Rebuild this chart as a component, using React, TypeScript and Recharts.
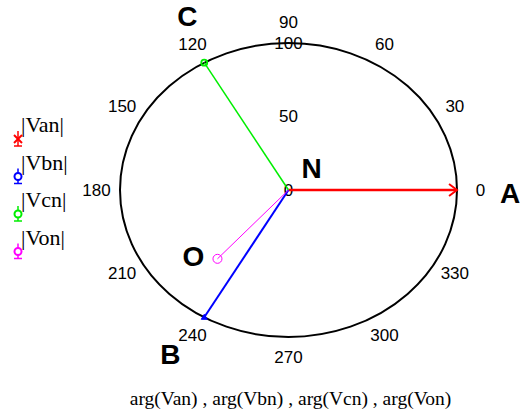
import React from 'react';
import { ScatterChart, Scatter, XAxis, YAxis, ReferenceArea, ReferenceDot, Legend } from 'recharts';

// ---- data ----
const seriesNames = ['Van', 'Vbn', 'Vcn', 'Von'];
const magnitudes = [100, 100, 100, 63];
const anglesDeg = [0, 240, 120, 228];
const tipLetters = ['A', 'B', 'C', 'O'];
const centerLetter = 'N';
const angleTicks = [0, 30, 60, 90, 120, 150, 180, 210, 240, 270, 300, 330];
const radialTicks = [0, 50, 100];
const maxRadius = 100;
const axisTitle = 'arg(Van) , arg(Vbn) , arg(Vcn) , arg(Von)';

// ---- styles ----
const colors = ['#ff0000', '#0000ff', '#00ee00', '#ff00ff'];
const lineWidths = [2.5, 2, 1.5, 1];
const tipMarkers = ['arrow', 'triangle', 'smallCircle', 'circle'];
const legendMarkers = ['x', 'o', 'o', 'o'];
const letterOffsets = [
  { dx: 53, dy: 3 },
  { dx: -34, dy: 37 },
  { dx: -17, dy: -46 },
  { dx: -24, dy: -2 },
];
const centerLetterOffset = { dx: 23, dy: -22 };
const tickLabelRadius = 114;
const sansFont = '"Liberation Sans", Arial, sans-serif';
const serifFont = '"Liberation Serif", "Times New Roman", serif';

const toXY = (r: number, deg: number) => ({
  x: r * Math.cos((deg * Math.PI) / 180),
  y: r * Math.sin((deg * Math.PI) / 180),
});

const seriesData = seriesNames.map((name, i) => {
  const tip = toXY(magnitudes[i], anglesDeg[i]);
  return [
    { x: 0, y: 0, tip: false },
    { x: tip.x, y: tip.y, tip: true },
  ];
});

const EllipseShape = (props: any) => {
  const { x, y, width, height } = props;
  return (
    <ellipse
      cx={x + width / 2}
      cy={y + height / 2}
      rx={width / 2}
      ry={height / 2}
      fill="none"
      stroke="#000"
      strokeWidth={2}
    />
  );
};

const makeTipShape = (i: number) => (props: any) => {
  const { cx, cy, payload } = props;
  if (!payload || !payload.tip) return <g />;
  const color = colors[i];
  const kind = tipMarkers[i];
  const off = letterOffsets[i];
  let marker: React.ReactNode = null;
  if (kind === 'arrow') {
    const a = (anglesDeg[i] * Math.PI) / 180;
    const len = 10;
    const spread = 0.65;
    const bx1 = cx - len * Math.cos(a - spread);
    const by1 = cy + len * Math.sin(a - spread);
    const bx2 = cx - len * Math.cos(a + spread);
    const by2 = cy + len * Math.sin(a + spread);
    marker = (
      <polyline
        points={`${bx1},${by1} ${cx},${cy} ${bx2},${by2}`}
        fill="none"
        stroke={color}
        strokeWidth={2}
      />
    );
  } else if (kind === 'triangle') {
    marker = (
      <polygon
        points={`${cx},${cy - 3} ${cx - 3},${cy + 2} ${cx + 3},${cy + 2}`}
        fill={color}
        stroke={color}
        strokeWidth={1}
      />
    );
  } else if (kind === 'smallCircle') {
    marker = <circle cx={cx} cy={cy} r={3} fill="none" stroke={color} strokeWidth={1.8} />;
  } else {
    marker = <circle cx={cx} cy={cy} r={4.5} fill="none" stroke={color} strokeWidth={1} />;
  }
  return (
    <g>
      {marker}
      <text
        x={cx + off.dx}
        y={cy + off.dy}
        textAnchor="middle"
        dominantBaseline="central"
        fontFamily={sansFont}
        fontWeight="bold"
        fontSize={28}
        fill="#000"
      >
        {tipLetters[i]}
      </text>
    </g>
  );
};

const textShape = (label: string, size = 17, family = sansFont, extra: any = {}) => (props: any) => (
  <text
    x={props.cx + (extra.dx || 0)}
    y={props.cy + (extra.dy || 0)}
    textAnchor="middle"
    dominantBaseline="central"
    fontFamily={family}
    fontSize={size}
    fontWeight={extra.bold ? 'bold' : 'normal'}
    fill="#000"
  >
    {label}
  </text>
);

const renderLegend = (props: any) => {
  const payload = props.payload || [];
  return (
    <svg width={80} height={160} style={{ overflow: 'visible' }}>
      {payload.map((entry: any, k: number) => {
        const i = seriesNames.indexOf(entry.value);
        const idx = i >= 0 ? i : k;
        const color = colors[idx];
        const base = 32 + idx * 37.5;
        const my = base + 7;
        const mx = 18;
        return (
          <g key={entry.value}>
            <line x1={mx} y1={my - 8} x2={mx} y2={my + 7} stroke={color} strokeWidth={1.5} />
            <line x1={mx - 4} y1={my + 7} x2={mx + 4} y2={my + 7} stroke={color} strokeWidth={1.5} />
            {legendMarkers[idx] === 'x' ? (
              <g stroke={color} strokeWidth={2}>
                <line x1={mx - 4} y1={my - 4} x2={mx + 4} y2={my + 4} />
                <line x1={mx - 4} y1={my + 4} x2={mx + 4} y2={my - 4} />
              </g>
            ) : (
              <circle cx={mx} cy={my} r={3.5} fill="#fff" stroke={color} strokeWidth={2} />
            )}
            <text x={21} y={base} fontFamily={serifFont} fontSize={22} fill="#000">
              {`|${entry.value}|`}
            </text>
          </g>
        );
      })}
    </svg>
  );
};

export default function App() {
  return (
    <div style={{ position: 'absolute', left: 0, top: 0, width: 521, height: 414, background: '#fff' }}>
      <ScatterChart width={521} height={414} margin={{ top: 43, right: 64, bottom: 77, left: 120 }}>
        <XAxis type="number" dataKey="x" domain={[-maxRadius, maxRadius]} hide />
        <YAxis type="number" dataKey="y" domain={[-maxRadius, maxRadius]} hide />
        <ReferenceArea
          x1={-maxRadius}
          x2={maxRadius}
          y1={-maxRadius}
          y2={maxRadius}
          shape={EllipseShape}
          ifOverflow="visible"
        />
        {angleTicks.map((deg) => {
          const p = toXY(tickLabelRadius, deg);
          return (
            <ReferenceDot
              key={`a${deg}`}
              x={p.x}
              y={p.y}
              r={0}
              ifOverflow="visible"
              shape={textShape(String(deg))}
            />
          );
        })}
        {radialTicks.map((r) => (
          <ReferenceDot
            key={`r${r}`}
            x={0}
            y={r}
            r={0}
            ifOverflow="visible"
            shape={textShape(String(r))}
          />
        ))}
        <ReferenceDot
          x={0}
          y={0}
          r={0}
          ifOverflow="visible"
          shape={textShape(centerLetter, 28, sansFont, { dx: centerLetterOffset.dx, dy: centerLetterOffset.dy, bold: true })}
        />
        {seriesNames.map((name, i) => (
          <Scatter
            key={name}
            name={name}
            data={seriesData[i]}
            fill={colors[i]}
            line={{ stroke: colors[i], strokeWidth: lineWidths[i] }}
            shape={makeTipShape(i)}
            isAnimationActive={false}
          />
        ))}
        <Legend
          layout="vertical"
          align="center"
          verticalAlign="middle"
          content={renderLegend}
          wrapperStyle={{ left: 0, top: 100, width: 80, height: 160 }}
        />
      </ScatterChart>
      <div
        style={{
          position: 'absolute',
          left: 0,
          width: 581,
          top: 388,
          textAlign: 'center',
          fontFamily: serifFont,
          fontSize: 19.5,
          lineHeight: '22px',
          color: '#000',
          whiteSpace: 'nowrap',
        }}
      >
        {axisTitle}
      </div>
    </div>
  );
}
